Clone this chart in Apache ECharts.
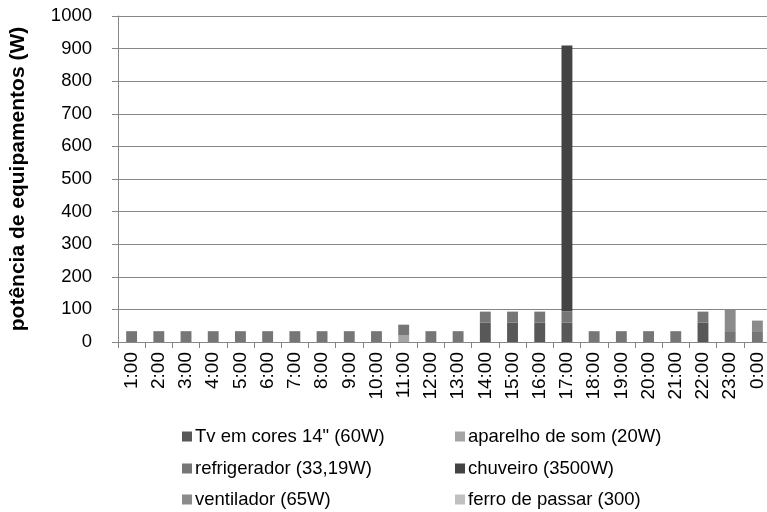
<!DOCTYPE html>
<html>
<head>
<meta charset="utf-8">
<script src="https://cdn.jsdelivr.net/npm/echarts@6/dist/echarts.min.js"></script>
<style>
  html, body { margin: 0; padding: 0; background: #fff; }
  #main { width: 767px; height: 512px; }
</style>
</head>
<body>
<div id="main"></div>
<script>
// horas do dia
var horas = ['1:00','2:00','3:00','4:00','5:00','6:00','7:00','8:00','9:00','10:00','11:00','12:00',
             '13:00','14:00','15:00','16:00','17:00','18:00','19:00','20:00','21:00','22:00','23:00','0:00'];
// potência por equipamento (W)
var tv =        [0,0,0,0,0,0,0,0,0,0,0,0,0,60,60,60,60,0,0,0,0,60,0,0];
var som =       [0,0,0,0,0,0,0,0,0,0,20,0,0,0,0,0,0,0,0,0,0,0,0,0];
var refrig =    [33.19,33.19,33.19,33.19,33.19,33.19,33.19,33.19,33.19,33.19,33.19,33.19,
                 33.19,33.19,33.19,33.19,33.19,33.19,33.19,33.19,33.19,33.19,33.19,33.19];
var chuveiro =  [0,0,0,0,0,0,0,0,0,0,0,0,0,0,0,0,816.67,0,0,0,0,0,0,0];
var ventilador =[0,0,0,0,0,0,0,0,0,0,0,0,0,0,0,0,0,0,0,0,0,0,65,32.5];
var ferro =     [0,0,0,0,0,0,0,0,0,0,0,0,0,0,0,0,0,0,0,0,0,0,0,0];
var yTicks = [0,100,200,300,400,500,600,700,800,900,1000];

var nomes = ['Tv em cores 14" (60W)','aparelho de som (20W)','refrigerador (33,19W)',
             'chuveiro (3500W)','ventilador (65W)','ferro de passar (300)'];
var cores = ['#585858','#a5a5a5','#767676','#434343','#8b8b8b','#c0c0c0'];
var dados = [tv, som, refrig, chuveiro, ventilador, ferro];

var myChart = echarts.init(document.getElementById('main'));

var series = [];
for (var i = 0; i < nomes.length; i++) {
    series.push({
        name: nomes[i],
        type: 'bar',
        stack: 'total',
        barWidth: '40%',
        data: dados[i],
        itemStyle: { color: cores[i] }
    });
}

var fonte = 'Liberation Sans';
// uma legenda por item: duas colunas, três linhas
var legPos = [[182, 427], [455, 427], [182, 459], [455, 459], [182, 490], [455, 490]];
var legends = [];
for (var j = 0; j < nomes.length; j++) {
    legends.push({
        left: legPos[j][0], top: legPos[j][1],
        itemWidth: 10, itemHeight: 10, itemGap: 0,
        icon: 'rect',
        padding: 0,
        textStyle: { fontFamily: fonte, fontSize: 18.5, color: '#000', padding: [0, 0, 0, -2] },
        data: [nomes[j]]
    });
}

var option = {
    animation: false,
    color: cores,
    grid: { left: 118, right: -4, top: 16, bottom: 170, containLabel: false, outerBoundsMode: 'none' },
    legend: legends,
    xAxis: {
        type: 'category',
        data: horas,
        axisLine: { lineStyle: { color: '#868686', width: 1 } },
        axisTick: { show: true, length: 6, alignWithLabel: false, lineStyle: { color: '#868686' } },
        axisLabel: {
            rotate: 90, interval: 0, margin: 10,
            fontFamily: fonte, fontSize: 19, color: '#000'
        }
    },
    yAxis: {
        type: 'value',
        min: yTicks[0], max: yTicks[yTicks.length - 1], interval: 100,
        name: 'potência de equipamentos (W)',
        nameLocation: 'middle',
        nameGap: 89,
        nameRotate: 90,
        nameTextStyle: { fontFamily: fonte, fontSize: 21, fontWeight: 'bold', color: '#000' },
        axisLine: { show: true, lineStyle: { color: '#868686', width: 1 } },
        axisTick: { show: true, length: 6, lineStyle: { color: '#868686' } },
        splitLine: { lineStyle: { color: '#868686', width: 1 } },
        axisLabel: {
            margin: 26, fontFamily: fonte, fontSize: 18.5, color: '#000',
            formatter: function (v) { return String(v); }
        }
    },
    series: series
};

myChart.setOption(option);
</script>
</body>
</html>
